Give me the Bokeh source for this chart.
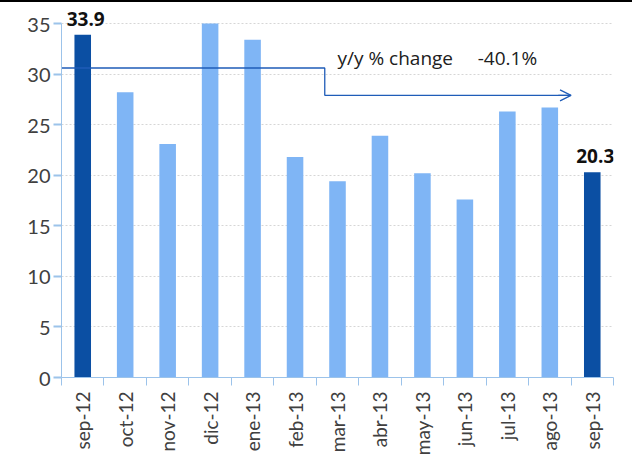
import numpy as np
from bokeh.plotting import figure
from bokeh.models import (FixedTicker, Range1d, Label, LabelSet, Arrow, OpenHead,
                          Div, ColumnDataSource)
from bokeh.layouts import column
from bokeh.core.properties import value
from bokeh.embed import file_html
from bokeh.resources import INLINE

# ---- data ----
months = ["sep-12", "oct-12", "nov-12", "dic-12", "ene-13", "feb-13", "mar-13",
          "abr-13", "may-13", "jun-13", "jul-13", "ago-13", "sep-13"]
values = [33.9, 28.2, 23.1, 35.0, 33.4, 21.8, 19.4, 23.9, 20.2, 17.6, 26.3, 26.7, 20.3]
highlight = ["sep-12", "sep-13"]
y_ticks = [0, 5, 10, 15, 20, 25, 30, 35]
change_text = "y/y % change\u00a0\u00a0\u00a0\u00a0\u00a0-40.1%"
change_start_y = 30.6
change_end_y = 27.9
change_step_x = 6.2
change_end_x = 12.0

DARK = "#0b4fa3"
LIGHT = "#7fb5f5"
LINE = "#1f5cb8"
AXIS = "#9cc3ea"
TXT = "#404040"

n = len(months)
centers = np.arange(n) + 0.5
colors = [DARK if m in highlight else LIGHT for m in months]
src = ColumnDataSource(dict(x=centers, top=values, color=colors, month=months))

hl_idx = [i for i, m in enumerate(months) if m in highlight]
hl_src = ColumnDataSource(dict(x=[centers[i] for i in hl_idx],
                               y=[values[i] for i in hl_idx],
                               label=["%.1f" % values[i] for i in hl_idx]))

p = figure(frame_width=552, frame_height=374, output_backend="svg", toolbar_location=None,
           x_range=Range1d(0, n), y_range=Range1d(0, 36.98),
           min_border_left=61, min_border_right=10, min_border_top=1, min_border_bottom=10,
           margin=(0, 0, 0, 0))
p.outline_line_color = None
p.background_fill_color = "white"

p.vbar(x="x", top="top", bottom=0, width=0.39, fill_color="color", line_color=None, source=src)

# y axis (single-digit labels padded with a figure space so all align alike)
p.yaxis.ticker = FixedTicker(ticks=y_ticks)
p.yaxis.major_label_overrides = {t: (str(t) if t >= 10 else "\u2007" + str(t)) for t in y_ticks}
p.yaxis.bounds = (0, 35)
p.yaxis.axis_line_color = AXIS
p.yaxis.major_tick_line_color = AXIS
p.yaxis.major_tick_line_width = 2
p.yaxis.major_tick_out = 8
p.yaxis.major_tick_in = 0
p.yaxis.minor_tick_line_color = None
p.yaxis.major_label_text_font = "Lato"
p.yaxis.major_label_text_font_size = "20px"
p.yaxis.major_label_text_color = TXT
p.yaxis.major_label_text_align = "right"
p.yaxis.major_label_standoff = 3

# x axis: labels at centers, ticks at boundaries
p.xaxis.ticker = FixedTicker(ticks=list(centers), minor_ticks=list(range(n + 1)))
p.xaxis.major_label_overrides = {float(c): m for c, m in zip(centers, months)}
p.xaxis.major_tick_line_color = None
p.xaxis.minor_tick_line_color = AXIS
p.xaxis.minor_tick_out = 8
p.xaxis.minor_tick_in = 0
p.xaxis.axis_line_color = AXIS
p.xaxis.major_label_orientation = np.pi / 2
p.xaxis.major_label_text_font = "Lato"
p.xaxis.major_label_text_font_size = "19px"
p.xaxis.major_label_text_color = TXT
p.xaxis.major_label_standoff = 6

p.xgrid.grid_line_color = None
p.ygrid.ticker = FixedTicker(ticks=y_ticks[1:])
p.ygrid.grid_line_color = "#d6d6d6"
p.ygrid.grid_line_dash = "2 2"

# change arrow
p.line([0, change_step_x, change_step_x, change_end_x],
       [change_start_y, change_start_y, change_end_y, change_end_y],
       line_color=LINE, line_width=1.3)
p.add_layout(Arrow(end=OpenHead(size=11, line_color=LINE, line_width=1.3),
                   x_start=change_end_x - 0.3, y_start=change_end_y,
                   x_end=change_end_x, y_end=change_end_y,
                   line_color=LINE, line_width=1.3))
p.add_layout(Label(x=6.5, y=31.55, text=change_text, text_font="Open Sans",
                   text_font_size="19px", text_color="#202020",
                   text_baseline="alphabetic"))

p.add_layout(LabelSet(x="x", y="y", text="label", source=hl_src, x_offset=3, y_offset=9,
                      text_align="center", text_baseline="alphabetic",
                      text_font=value("Open Sans"), text_font_style="bold",
                      text_font_size="19px", text_color="#111111"))

top_line = Div(width=632, height=2, margin=(0, 0, 0, 0),
               styles={"background-color": "black"})
layout = column(top_line, p, spacing=0)

open("out.html", "w").write(file_html(layout, INLINE))
